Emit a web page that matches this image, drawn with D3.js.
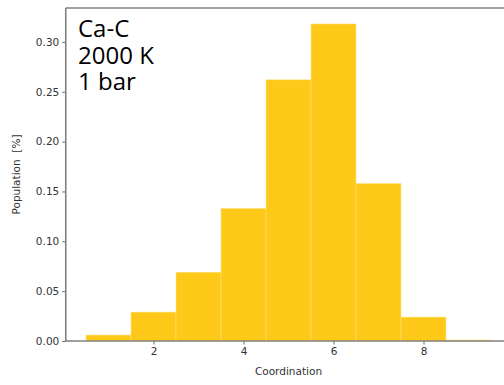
<!DOCTYPE html>
<html>
<head>
<meta charset="utf-8">
<script src="https://cdn.jsdelivr.net/npm/d3@7"></script>
<style>
  body { margin: 0; background: #fff; }
  svg text { font-family: "DejaVu Sans", sans-serif; }
</style>
</head>
<body>
<svg id="chart" width="504" height="385"></svg>
<script>
const coordination = [1, 2, 3, 4, 5, 6, 7, 8, 9];
const population = [0.006, 0.029, 0.069, 0.133, 0.262, 0.318, 0.158, 0.024, 0.001];
const yTicks = [0.00, 0.05, 0.10, 0.15, 0.20, 0.25, 0.30];
const xTicks = [2, 4, 6, 8];
const labelLines = ["Ca-C", "2000 K", "1 bar"];

const width = 504, height = 385;
const mLeft = 65.75, mRight = 511.25, mTop = 8, mBottom = 341;

const svg = d3.select('#chart');

const x = d3.scaleLinear().domain([0.05, 9.95]).range([mLeft, mRight]);
const y = d3.scaleLinear().domain([0, 0.334]).range([mBottom, mTop]);

// bars
svg.append('g')
  .selectAll('rect')
  .data(coordination)
  .enter().append('rect')
  .attr('x', d => x(d - 0.5))
  .attr('width', d => x(d + 0.5) - x(d - 0.5))
  .attr('y', (d, i) => y(population[i]))
  .attr('height', (d, i) => y(0) - y(population[i]))
  .attr('fill', '#ffc91a')
  .attr('stroke', '#ffe58a')
  .attr('stroke-width', 0.5);

// axes
const xAxis = svg.append('g')
  .attr('transform', `translate(0,${mBottom})`)
  .call(d3.axisBottom(x).tickValues(xTicks).tickSize(3.5).tickPadding(3).tickFormat(d3.format('d')));

const yAxis = svg.append('g')
  .attr('transform', `translate(${mLeft},0)`)
  .call(d3.axisLeft(y).tickValues(yTicks).tickSize(3.5).tickPadding(3).tickFormat(d3.format('.2f')));

[xAxis, yAxis].forEach(a => {
  a.select('.domain').remove();
  a.selectAll('line').attr('stroke', '#444').attr('stroke-width', 0.8);
  a.selectAll('text').attr('fill', '#333').style('font-size', '10.5px');
});

// spines
const spine = svg.append('g').attr('stroke', '#808080').attr('stroke-width', 1.6).attr('fill', 'none');
spine.append('line').attr('x1', mLeft).attr('x2', mLeft).attr('y1', mTop).attr('y2', mBottom);
spine.append('line').attr('x1', mLeft).attr('x2', mRight).attr('y1', mTop).attr('y2', mTop);
spine.append('line').attr('x1', mLeft).attr('x2', mRight).attr('y1', mBottom).attr('y2', mBottom);

// axis labels
svg.append('text')
  .attr('x', (mLeft + mRight) / 2)
  .attr('y', 375)
  .attr('text-anchor', 'middle')
  .attr('fill', '#333')
  .style('font-size', '10.5px')
  .text('Coordination');

svg.append('text')
  .attr('transform', `translate(20,${(mTop + mBottom) / 2}) rotate(-90)`)
  .attr('text-anchor', 'middle')
  .attr('fill', '#333')
  .style('font-size', '10.5px')
  .style('white-space', 'pre')
  .text('Population  [%]');

// annotation
svg.append('g')
  .selectAll('text')
  .data(labelLines)
  .enter().append('text')
  .attr('x', 78)
  .attr('y', (d, i) => 37 + i * 26.5)
  .attr('fill', '#000')
  .style('font-family', '"Open Sans", sans-serif')
  .style('font-size', '24px')
  .text(d => d);
</script>
</body>
</html>
